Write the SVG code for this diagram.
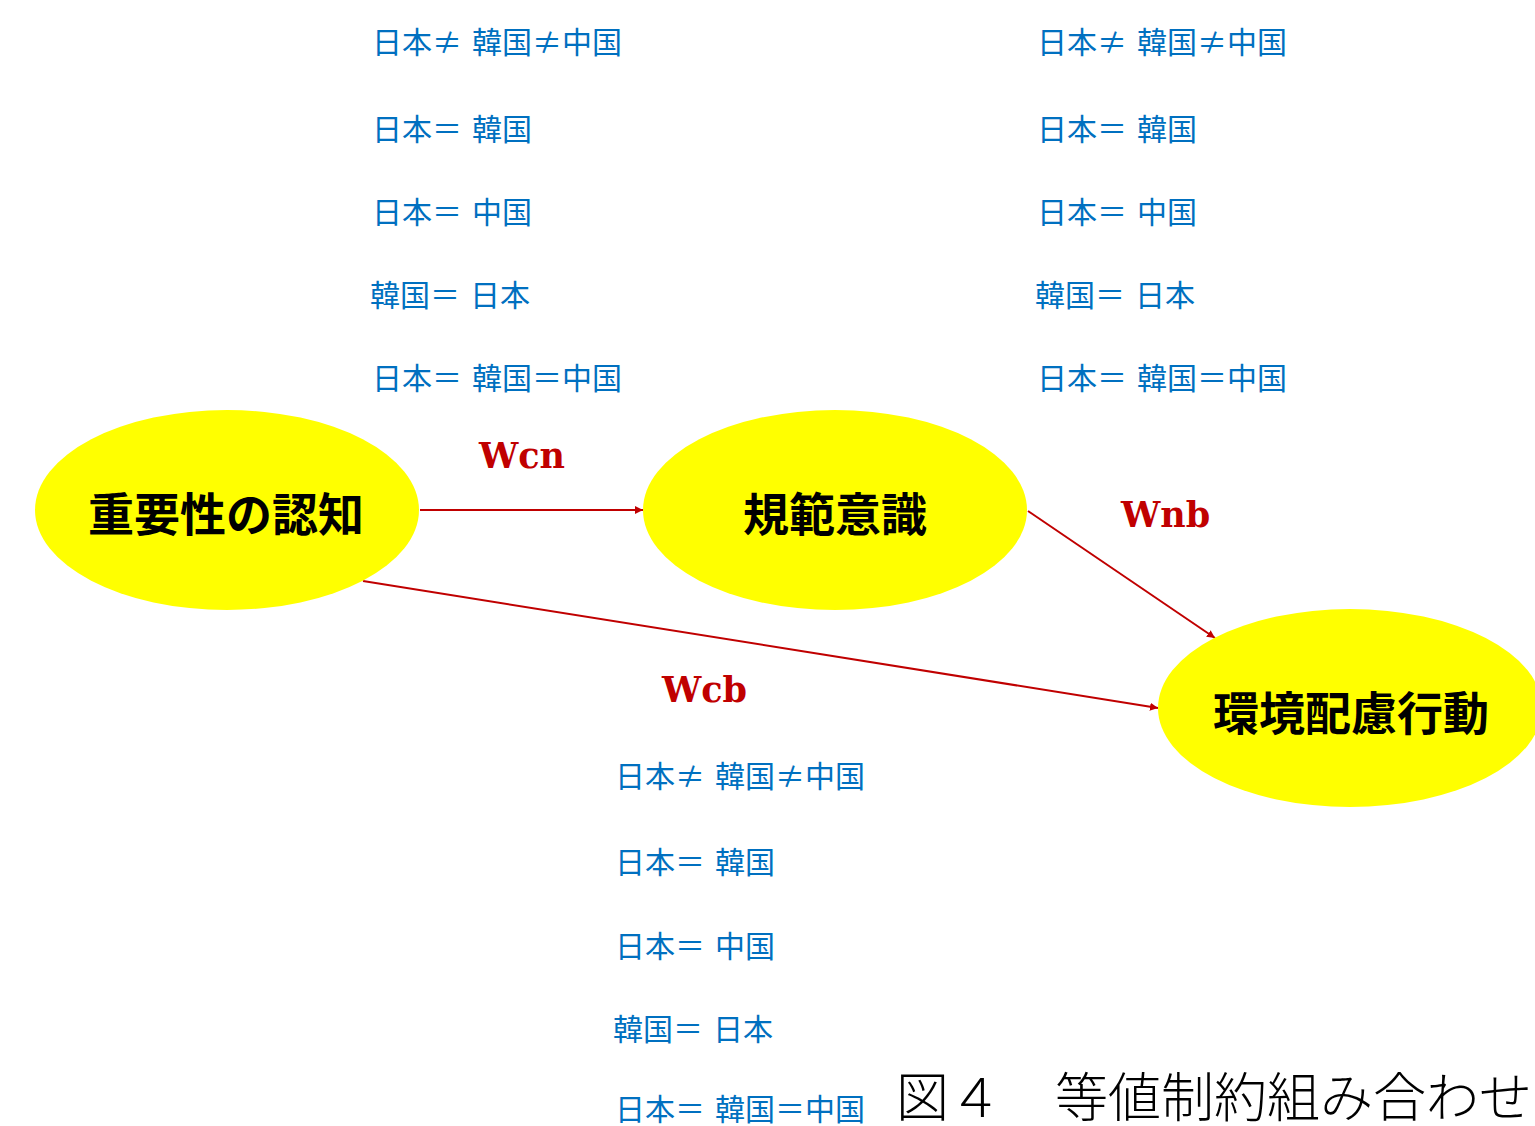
<svg xmlns="http://www.w3.org/2000/svg" width="1535" height="1126" viewBox="0 0 1535 1126">
<defs>
<style>
.node{fill:#FFFF00;stroke:none}
.nl{font-family:"Noto Sans CJK JP",sans-serif;font-weight:bold;font-size:46px;fill:#000;text-anchor:middle}
.blue{font-family:"Noto Sans CJK JP",sans-serif;font-size:30px;fill:#0070C0}
.el{font-family:"DejaVu Serif",serif;font-weight:bold;font-size:35px;fill:#C00000}
.edge{stroke:#C00000;stroke-width:2;fill:none;marker-end:url(#ah)}
.cap{font-family:"Liberation Serif","Noto Sans CJK JP",serif;font-size:53px;font-weight:300;fill:#000}
</style>
<marker id="ah" markerUnits="userSpaceOnUse" markerWidth="8" markerHeight="8" viewBox="0 0 10 10" refX="10" refY="5" orient="auto">
<path d="M0,0 L10,5 L0,10 z" fill="#C00000"/>
</marker>
</defs>
<rect width="1535" height="1126" fill="#fff"/>
<g id="connectors">
<line class="edge" x1="420" y1="510" x2="643" y2="510"/>
<line class="edge" x1="1028" y1="511" x2="1215" y2="638"/>
<line class="edge" x1="363" y1="581" x2="1158" y2="708"/>
</g>
<g id="node-ninchi">
<ellipse class="node" cx="227" cy="510" rx="192" ry="100"/>
<text class="nl" x="226" y="531">重要性の認知</text>
</g>
<g id="node-kihan">
<ellipse class="node" cx="835" cy="510" rx="192" ry="100"/>
<text class="nl" x="835" y="531">規範意識</text>
</g>
<g id="node-kodo">
<ellipse class="node" cx="1350" cy="708" rx="192" ry="99"/>
<text class="nl" x="1351" y="730">環境配慮行動</text>
</g>
<g id="edge-labels">
<text class="el" x="479" y="468">Wcn</text>
<text class="el" x="1121" y="527">Wnb</text>
<text class="el" x="662" y="702">Wcb</text>
</g>
<g id="constraints-left">
<text class="blue" x="372" y="53">日本≠&#8196;韓国≠中国</text>
<text class="blue" x="372" y="140">日本＝&#8196;韓国</text>
<text class="blue" x="372" y="223">日本＝&#8196;中国</text>
<text class="blue" x="370" y="306">韓国＝&#8196;日本</text>
<text class="blue" x="372" y="389">日本＝&#8196;韓国＝中国</text>
</g>
<g id="constraints-right">
<text class="blue" x="1037" y="53">日本≠&#8196;韓国≠中国</text>
<text class="blue" x="1037" y="140">日本＝&#8196;韓国</text>
<text class="blue" x="1037" y="223">日本＝&#8196;中国</text>
<text class="blue" x="1035" y="306">韓国＝&#8196;日本</text>
<text class="blue" x="1037" y="389">日本＝&#8196;韓国＝中国</text>
</g>
<g id="constraints-bottom">
<text class="blue" x="615" y="787">日本≠&#8196;韓国≠中国</text>
<text class="blue" x="615" y="873">日本＝&#8196;韓国</text>
<text class="blue" x="615" y="957">日本＝&#8196;中国</text>
<text class="blue" x="613" y="1040">韓国＝&#8196;日本</text>
<text class="blue" x="615" y="1120">日本＝&#8196;韓国＝中国</text>
</g>
<text id="caption" class="cap" x="896" y="1117">図４　等値制約組み合わせ</text>
</svg>
